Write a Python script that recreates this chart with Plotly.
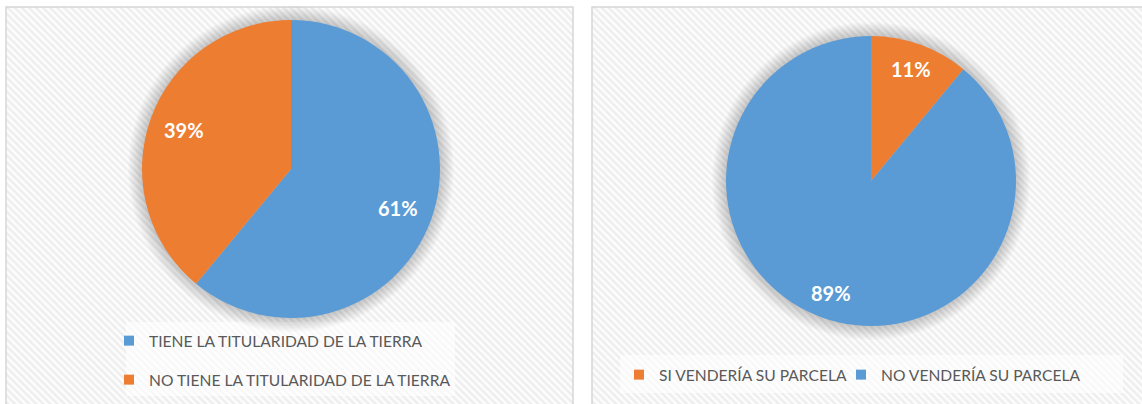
import numpy as np
import plotly.graph_objects as go

W, H = 1142, 404

# Survey results (percent of respondents)
titularidad_labels = ["TIENE LA TITULARIDAD DE LA TIERRA", "NO TIENE LA TITULARIDAD DE LA TIERRA"]
titularidad_values = [61, 39]
venta_labels = ["SI VENDERÍA SU PARCELA", "NO VENDERÍA SU PARCELA"]
venta_values = [11, 89]

BLUE = "#5B9BD5"
ORANGE = "#ED7D31"
titularidad_colors = [BLUE, ORANGE]
venta_colors = [ORANGE, BLUE]

FONT = "Lato"
LEGEND_COLOR = "#595959"

# Pixel geometry of the two chart panels and pies (x, y measured from top-left)
panels = [(6, 573, 7), (592, 1160, 7)]
legend_boxes = [(126, 455, 322, 396), (620, 1123, 355, 393)]
pies = [(291, 169, 149), (871, 181, 145)]   # centre x, centre y, radius
label_radius = [0.765, 0.82]                 # label distance from centre, fraction of radius
# Legend anchors: (legend id, left x, centre y)
legend_pos = [("legend", 109, 341), ("legend2", 109, 380),
              ("legend3", 619, 375), ("legend4", 841, 375)]


def py(y):
    """Convert a top-down pixel coordinate to the bottom-up axis used here."""
    return H - y


fig = go.Figure()

# Panel backgrounds with a light diagonal hatch and thin grey border
for x0, x1, top in panels:
    fig.add_trace(go.Bar(
        x=[(x0 + x1) / 2], y=[py(top) + 10], base=[-10], width=[x1 - x0],
        marker=dict(color="white",
                    pattern=dict(shape="\\", fgcolor="#eeeeee", bgcolor="#fdfdfd",
                                 size=5, solidity=0.5, fillmode="replace"),
                    line=dict(color="#d6d6d6", width=1.5)),
        showlegend=False, hoverinfo="skip"))

# Lighter plates behind the legends
for x0, x1, y0, y1 in legend_boxes:
    fig.add_trace(go.Bar(
        x=[(x0 + x1) / 2], y=[y1 - y0], base=[py(y1)], width=[x1 - x0],
        marker=dict(color="rgba(255,255,255,0.6)", line=dict(width=0)),
        showlegend=False, hoverinfo="skip"))

# Soft glow around each pie
theta = np.linspace(0, 2 * np.pi, 181)
for cx, cy, r in pies:
    for k in range(1, 11):
        rr = r + k * 1.4
        fig.add_trace(go.Scatter(
            x=cx + rr * np.cos(theta), y=py(cy) + rr * np.sin(theta),
            mode="lines", line=dict(width=0), fill="toself",
            fillcolor="rgba(0,0,0,0.018)", showlegend=False, hoverinfo="skip"))


def domain(cx, cy, r):
    return dict(x=[(cx - r) / W, (cx + r) / W], y=[1 - (cy + r) / H, 1 - (cy - r) / H])


annotations = []
for (cx, cy, r), frac, labels, values, colors in [
    (pies[0], label_radius[0], titularidad_labels, titularidad_values, titularidad_colors),
    (pies[1], label_radius[1], venta_labels, venta_values, venta_colors),
]:
    fig.add_trace(go.Pie(
        labels=labels, values=values, sort=False, direction="clockwise", rotation=0,
        marker=dict(colors=colors, line=dict(width=0)),
        textinfo="none", domain=domain(cx, cy, r), showlegend=False, hoverinfo="skip"))

    # Percentage labels on each slice's bisector
    total = float(sum(values))
    cum = 0.0
    for v in values:
        mid = (cum + v / 2) / total * 2 * np.pi
        cum += v
        annotations.append(dict(
            x=cx + frac * r * np.sin(mid), y=py(cy - frac * r * np.cos(mid)),
            xref="x", yref="y", text=f"{v}%", showarrow=False,
            xanchor="center", yanchor="middle",
            font=dict(family=FONT, size=20, color="white", weight="bold")))

# Legend entries, one legend box per entry
entries = list(zip(titularidad_labels, titularidad_colors)) + list(zip(venta_labels, venta_colors))
for (leg, _, _), (name, color) in zip(legend_pos, entries):
    fig.add_trace(go.Scatter(
        x=[None], y=[None], mode="markers", name=name, legend=leg,
        marker=dict(symbol="square", size=10, color=color), hoverinfo="skip"))

legend_font = dict(family=FONT, size=15.6, color=LEGEND_COLOR)
common = dict(bgcolor="rgba(0,0,0,0)", borderwidth=0, font=legend_font,
              xanchor="left", yanchor="middle", itemclick=False, itemdoubleclick=False)
legends = {leg: dict(x=lx / W, y=1 - ly / H, **common) for leg, lx, ly in legend_pos}

fig.update_layout(
    width=W, height=H,
    margin=dict(l=0, r=0, t=0, b=0, pad=0, autoexpand=False),
    paper_bgcolor="white", plot_bgcolor="rgba(0,0,0,0)",
    barmode="overlay",
    xaxis=dict(range=[0, W], visible=False, fixedrange=True),
    yaxis=dict(range=[0, H], visible=False, fixedrange=True),
    annotations=annotations,
    showlegend=True,
    **legends,
)

fig.write_html("out.html")
